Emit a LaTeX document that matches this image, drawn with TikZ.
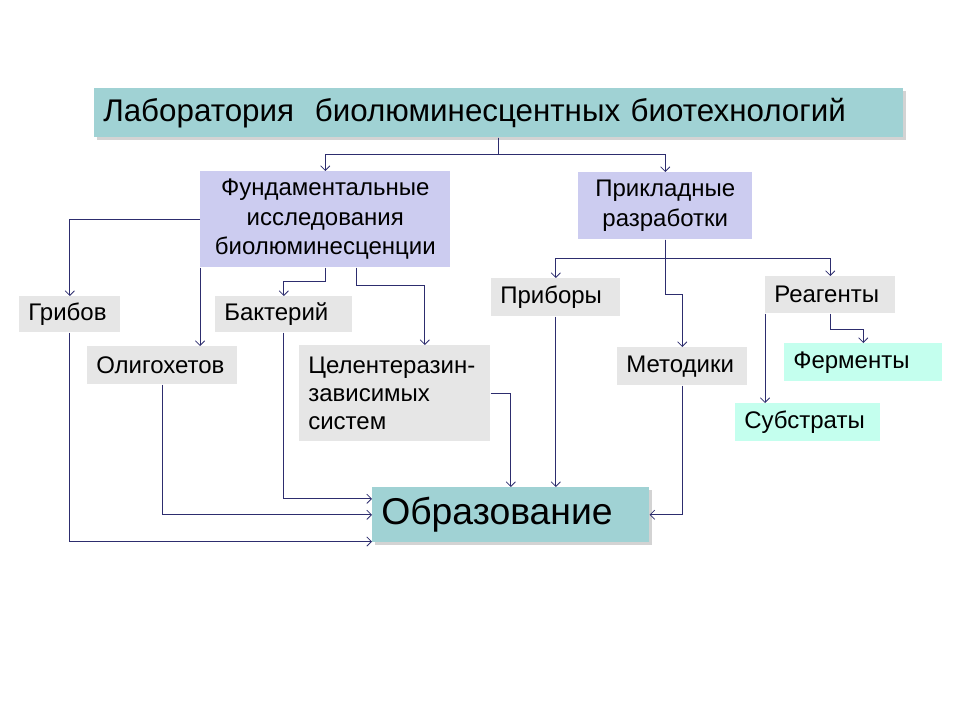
\documentclass[tikz,border=0pt]{standalone}
\usepackage{fontspec}
\setmainfont{Liberation Sans}
\usetikzlibrary{calc,arrows.meta,shadows}

\definecolor{titlecol}{RGB}{160,210,212}
\definecolor{lilac}{RGB}{204,204,240}
\definecolor{greybox}{RGB}{230,230,230}
\definecolor{aqua}{RGB}{196,255,238}
\definecolor{linkcol}{RGB}{45,45,110}

\tikzset{
  box/.style={rectangle, anchor=north west, inner xsep=6.75pt, inner ysep=0pt, align=left,
    font=\fontsize{18}{21}\selectfont},
  grey/.style={box, fill=greybox},
  lilacbox/.style={box, fill=lilac, align=center, font=\fontsize{18}{22}\selectfont},
  aquabox/.style={box, fill=aqua},
  bigbox/.style={box, fill=titlecol, drop shadow={shadow xshift=2pt, shadow yshift=-2pt, opacity=0.35}},
  link/.style={draw=linkcol, line width=0.6pt, -{Straight Barb[length=3.5pt, width=7pt]}}
}

\begin{document}
\begin{tikzpicture}[x=0.75pt, y=-0.75pt]
\useasboundingbox (0,0) rectangle (960,720);

\node[bigbox, text width=593.25pt, minimum height=36.75pt, font=\fontsize{23.5}{27}\selectfont] (lab) at (94,88)
  {Лаборатория\ \ биолюминесцентных биотехнологий};

\node[lilacbox, text width=174pt, minimum height=72pt] (fund) at (200,171)
  {Фундаментальные\\исследования\\биолюминесценции};
\node[lilacbox, text width=117pt, minimum height=50.25pt] (appl) at (578,172)
  {Прикладные\\разработки};

\node[grey, text width=62.25pt, minimum height=27pt] (fungi) at (19,296) {Грибов};
\node[grey, text width=99pt, minimum height=28.5pt] (oligo) at (87,346) {Олигохетов};
\node[grey, text width=89.25pt, minimum height=27pt] (bact) at (215,296) {Бактерий};
\node[grey, text width=129.75pt, minimum height=72pt] (coel) at (299,345)
  {Целентеразин-\\зависимых\\систем};

\node[grey, text width=83.25pt, minimum height=28.5pt] (devices) at (491,278) {Приборы};
\node[grey, text width=84pt, minimum height=28.5pt] (methods) at (617,347) {Методики};
\node[grey, text width=84pt, minimum height=27.75pt] (reag) at (765,276) {Реагенты};
\node[aquabox, text width=105pt, minimum height=28.5pt] (enz) at (784,343) {Ферменты};
\node[aquabox, text width=95.25pt, minimum height=28.5pt] (subs) at (735,403) {Субстраты};

\node[bigbox, text width=194.25pt, minimum height=41.25pt, font=\fontsize{28}{32}\selectfont] (edu) at (372,487)
  {Образование};

\draw[link] (lab.south) -- ++(0,17) -| (fund.north);
\draw[link] (lab.south) -- ++(0,17) -| (appl.north);

\draw[link] (fund.west) -| (fungi.north);
\draw[link] (fund.south west) -- (fund.south west |- oligo.north);
\draw[link] (fund.south) -- ++(0,14) -| (bact.north);
\draw[link] ($(fund.south)+(31,0)$) -- ++(0,18) -| ($(coel.north)+(30,0)$);

\draw[link] (appl.south) -- ++(0,19) -| (devices.north);
\draw[link] (appl.south) -- ++(0,19) -| (reag.north);
\draw[link] (appl.south) -- ++(0,55) -| (methods.north);

\draw[link] (reag.south) -- ++(0,16) -| (enz.north);
\draw[link] (reag.south west) -- (reag.south west |- subs.north);

\draw[link] (fungi.south) |- ($(edu.south west)+(0,-1)$);
\draw[link] (oligo.south) |- (edu.west);
\draw[link] (bact.south) |- ($(edu.west)+(0,-16)$);
\draw[link] (coel.east) -| (edu.north);
\draw[link] (devices.south) -- (devices.south |- edu.north);
\draw[link] (methods.south) |- (edu.east);

\end{tikzpicture}
\end{document}
